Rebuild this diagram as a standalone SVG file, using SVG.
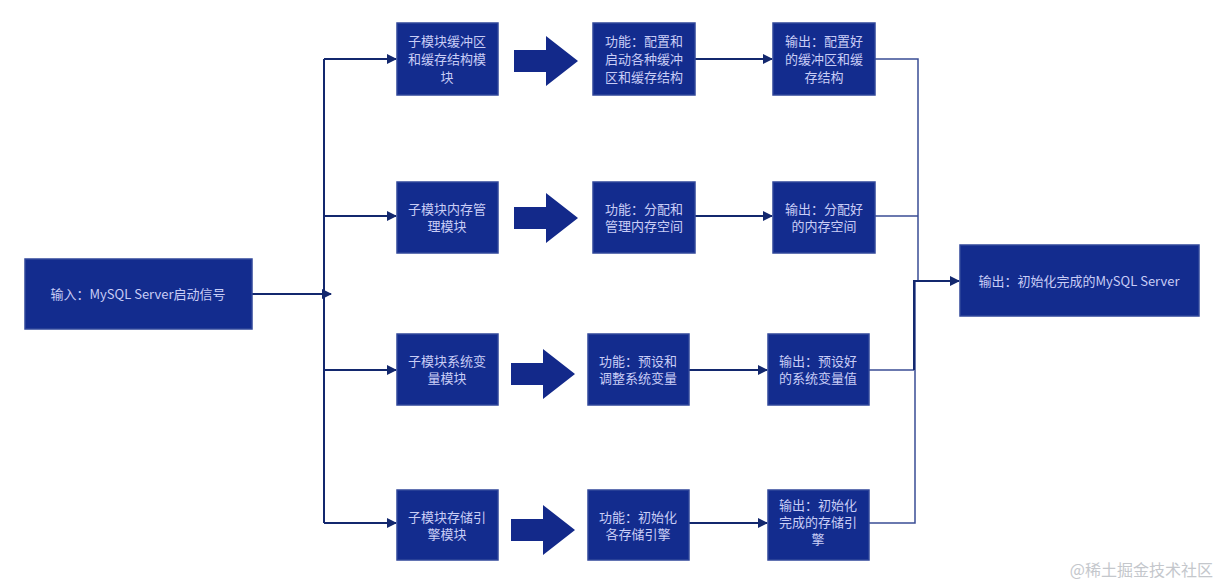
<svg xmlns="http://www.w3.org/2000/svg" width="1224" height="585" viewBox="0 0 1224 585">
<style>
.n rect{fill:#132c8e;stroke:#31479a;stroke-width:1.5}
.n text{fill:#c9cdf6;font-family:"Noto Sans CJK SC","Liberation Sans",sans-serif;font-size:13px;text-anchor:middle}
.c path{fill:none;stroke:#13286e;stroke-width:2}
.c .t{stroke:#3a4d95;stroke-width:1.5}
.big{fill:#13298a}
</style>
<defs>
<marker id="a" markerWidth="10" markerHeight="10" refX="9" refY="5" orient="auto" markerUnits="userSpaceOnUse" viewBox="0 0 10 10"><path d="M0,0L10,5L0,10z" fill="#13286e"/></marker>
</defs>
<rect width="1224" height="585" fill="#fff"/>
<g class="c">
<path d="M252,294H331" marker-end="url(#a)"/>
<path d="M324,59V523"/>
<path d="M324,59H396" marker-end="url(#a)"/>
<path d="M324,216H396" marker-end="url(#a)"/>
<path d="M324,370H396" marker-end="url(#a)"/>
<path d="M324,523H396" marker-end="url(#a)"/>
<path d="M695,59H772" marker-end="url(#a)"/>
<path d="M695,216H772" marker-end="url(#a)"/>
<path d="M689,370H767" marker-end="url(#a)"/>
<path d="M689,523H767" marker-end="url(#a)"/>
<path class="t" d="M875,59H918V281"/>
<path class="t" d="M875,216H918"/>
<path class="t" d="M869,370H914"/>
<path class="t" d="M869,523H915V281"/>
<path d="M914,370V281H959" marker-end="url(#a)"/>
</g>
<path class="big" d="M514,50H546V36L578,61L546,86V72H514Z"/>
<path class="big" d="M514,207H546V193L578,218L546,243V229H514Z"/>
<path class="big" d="M511,363H543V349L575,374L543,399V385H511Z"/>
<path class="big" d="M511,519H543V505L575,530L543,555V541H511Z"/>
<g id="input" class="n"><rect x="25" y="259" width="227" height="70"/><text x="138" y="299">输入：MySQL Server启动信号</text></g>
<g id="m1" class="n"><rect x="397" y="23" width="101" height="72"/><text x="447" y="46">子模块缓冲区</text><text x="447" y="64">和缓存结构模</text><text x="447" y="82">块</text></g>
<g id="m2" class="n"><rect x="397" y="182" width="101" height="71"/><text x="447" y="214">子模块内存管</text><text x="447" y="231">理模块</text></g>
<g id="m3" class="n"><rect x="397" y="334" width="101" height="71"/><text x="447" y="366">子模块系统变</text><text x="447" y="383">量模块</text></g>
<g id="m4" class="n"><rect x="397" y="490" width="101" height="70"/><text x="447" y="522">子模块存储引</text><text x="447" y="539">擎模块</text></g>
<g id="f1" class="n"><rect x="593" y="23" width="102" height="72"/><text x="644" y="46">功能：配置和</text><text x="644" y="64">启动各种缓冲</text><text x="644" y="82">区和缓存结构</text></g>
<g id="f2" class="n"><rect x="593" y="182" width="102" height="71"/><text x="644" y="214">功能：分配和</text><text x="644" y="231">管理内存空间</text></g>
<g id="f3" class="n"><rect x="588" y="334" width="101" height="71"/><text x="638" y="366">功能：预设和</text><text x="638" y="383">调整系统变量</text></g>
<g id="f4" class="n"><rect x="588" y="490" width="101" height="70"/><text x="638" y="522">功能：初始化</text><text x="638" y="539">各存储引擎</text></g>
<g id="o1" class="n"><rect x="773" y="23" width="102" height="72"/><text x="824" y="46">输出：配置好</text><text x="824" y="64">的缓冲区和缓</text><text x="824" y="82">存结构</text></g>
<g id="o2" class="n"><rect x="773" y="182" width="102" height="71"/><text x="824" y="214">输出：分配好</text><text x="824" y="231">的内存空间</text></g>
<g id="o3" class="n"><rect x="768" y="334" width="101" height="71"/><text x="818" y="366">输出：预设好</text><text x="818" y="383">的系统变量值</text></g>
<g id="o4" class="n"><rect x="768" y="490" width="101" height="70"/><text x="818" y="510">输出：初始化</text><text x="818" y="527">完成的存储引</text><text x="818" y="544">擎</text></g>
<g id="out" class="n"><rect x="960" y="245" width="239" height="71"/><text x="1079" y="286">输出：初始化完成的MySQL Server</text></g>
<text x="1213" y="576" text-anchor="end" font-family="Noto Sans CJK SC,sans-serif" font-size="16" fill="#c4c7cc">@稀土掘金技术社区</text>
</svg>
